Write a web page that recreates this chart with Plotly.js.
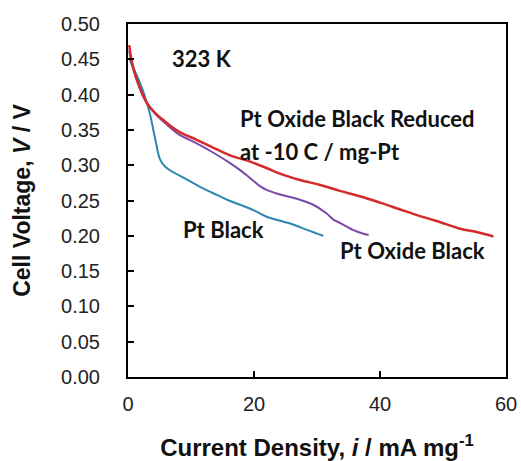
<!DOCTYPE html>
<html>
<head>
<meta charset="utf-8">
<script src="https://cdn.plot.ly/plotly-3.0.1.min.js"></script>
<style>html,body{margin:0;padding:0;background:#fff;}#chart{width:521px;height:461px;}</style>
</head>
<body>
<div id="chart"></div>
<script>
// Pt Oxide Black Reduced at -10 C / mg-Pt (red)
const reducedX = [0.2, 0.5, 1.4, 3, 4.2, 5.6, 8, 10.9, 13.5, 16.2, 19.4, 22, 24.1, 27.3, 30.5, 33.5, 36.8, 40, 43, 46, 49, 52.7, 55.5, 58];
const reducedY = [0.470, 0.452, 0.421, 0.388, 0.375, 0.364, 0.348, 0.336, 0.325, 0.314, 0.305, 0.296, 0.288, 0.279, 0.272, 0.264, 0.256, 0.247, 0.238, 0.229, 0.221, 0.210, 0.205, 0.199];
// Pt Oxide Black (purple)
const oxideX = [0.2, 0.5, 1.4, 3, 4.2, 5.6, 8, 10.9, 13.5, 16.2, 17.8, 18.8, 19.9, 21, 22, 23.6, 25.7, 27.3, 29.4, 31.5, 32.6, 33.7, 35.8, 37, 38.2];
const oxideY = [0.462, 0.447, 0.421, 0.388, 0.374, 0.362, 0.344, 0.331, 0.318, 0.303, 0.293, 0.286, 0.278, 0.270, 0.265, 0.260, 0.255, 0.251, 0.244, 0.232, 0.223, 0.218, 0.208, 0.204, 0.201];
// Pt Black (blue)
const blackX = [0.2, 0.5, 1.6, 2.4, 3.0, 3.5, 4.3, 5.1, 6, 7.2, 9.3, 11.5, 14.1, 16, 17.8, 20, 22, 24.7, 26.2, 28.5, 31];
const blackY = [0.452, 0.445, 0.423, 0.405, 0.388, 0.372, 0.338, 0.308, 0.297, 0.290, 0.280, 0.269, 0.258, 0.250, 0.244, 0.236, 0.227, 0.220, 0.216, 0.208, 0.200];

const labelFont = {family: 'Lato, "Open Sans", sans-serif', size: 22, color: '#111'};

const traces = [
  {x: blackX, y: blackY, mode: 'lines', name: 'Pt Black', line: {color: '#2E86B0', width: 2, shape: 'spline'}},
  {x: oxideX, y: oxideY, mode: 'lines', name: 'Pt Oxide Black', line: {color: '#7B4AA6', width: 2, shape: 'spline'}},
  {x: reducedX, y: reducedY, mode: 'lines', name: 'Pt Oxide Black Reduced', line: {color: '#D42A2A', width: 2.5, shape: 'spline'}}
];

const layout = {
  width: 521, height: 461,
  margin: {l: 128, r: 15, t: 24, b: 84},
  paper_bgcolor: '#fff', plot_bgcolor: '#fff',
  showlegend: false,
  font: {family: '"Liberation Sans", Arial, sans-serif', color: '#222'},
  xaxis: {
    range: [0, 60], dtick: 20, tick0: 0,
    ticks: 'inside', ticklen: 6, tickwidth: 2, tickcolor: '#000',
    showline: true, linewidth: 2, linecolor: '#000', mirror: true,
    showgrid: false, zeroline: false,
    tickfont: {size: 20, color: '#222'},
    ticklabelstandoff: 8,
    title: {text: '<b>Current Density, <i>i</i> / mA mg<sup>-1</sup></b>', font: {size: 24, color: '#111'}, standoff: 26}
  },
  yaxis: {
    range: [0, 0.5], dtick: 0.05, tick0: 0, tickformat: '.2f',
    ticks: 'inside', ticklen: 6, tickwidth: 2, tickcolor: '#000',
    showline: true, linewidth: 2, linecolor: '#000', mirror: true,
    showgrid: false, zeroline: false,
    tickfont: {size: 20, color: '#222'},
    ticklabelstandoff: 22,
    title: {text: '<b>Cell Voltage, <i>V</i> / V</b>', font: {size: 23, color: '#111'}, standoff: 24}
  },
  annotations: [
    {text: '<b>323 K</b>', xref: 'paper', yref: 'paper', x: 0.11, y: 0.901, xanchor: 'left', yanchor: 'middle', showarrow: false, font: labelFont},
    {text: '<b>Pt Oxide Black Reduced</b>', xref: 'paper', yref: 'paper', x: 0.29, y: 0.731, xanchor: 'left', yanchor: 'middle', showarrow: false, font: labelFont},
    {text: '<b>at -10 C / mg-Pt</b>', xref: 'paper', yref: 'paper', x: 0.29, y: 0.640, xanchor: 'left', yanchor: 'middle', showarrow: false, font: labelFont},
    {text: '<b>Pt Black</b>', xref: 'paper', yref: 'paper', x: 0.14, y: 0.419, xanchor: 'left', yanchor: 'middle', showarrow: false, font: labelFont},
    {text: '<b>Pt Oxide Black</b>', xref: 'paper', yref: 'paper', x: 0.555, y: 0.357, xanchor: 'left', yanchor: 'middle', showarrow: false, font: labelFont}
  ]
};

Plotly.newPlot('chart', traces, layout, {staticPlot: true, displayModeBar: false});
</script>
</body>
</html>
